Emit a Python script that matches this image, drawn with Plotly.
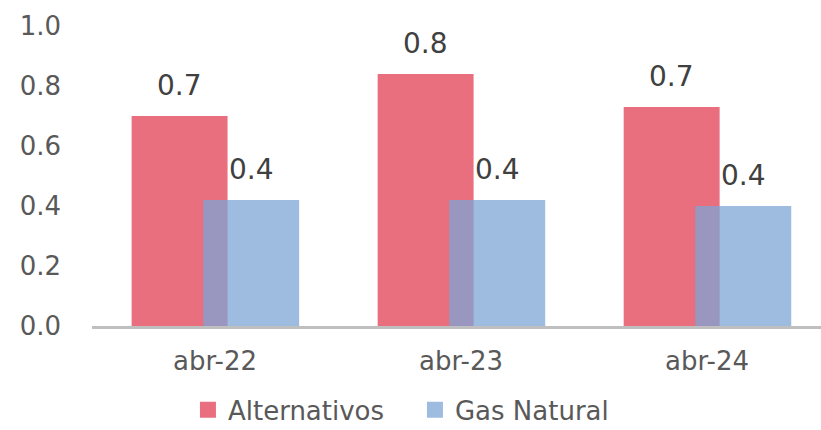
import plotly.graph_objects as go

categories = ["abr-22", "abr-23", "abr-24"]
alternativos = [0.70, 0.84, 0.73]
gas_natural = [0.42, 0.42, 0.40]
series_names = ["Alternativos", "Gas Natural"]
y_ticks = [0.0, 0.2, 0.4, 0.6, 0.8, 1.0]

RED = "rgb(233,111,127)"
BLUE = "rgba(125,164,213,0.75)"
FONT = "DejaVu Sans"
TXT = "#404040"
TICK = "#595959"

W, H = 821, 430
ML, MR, MT, MB = 92, 0, 26, 104
x_range = [-0.5, 2.463]
px_per_unit = (W - ML - MR) / (x_range[1] - x_range[0])

bw = 0.39
off_red = -0.339
off_blue = -0.048

fig = go.Figure()
fig.add_trace(go.Bar(x=categories, y=alternativos, name=series_names[0],
                     marker=dict(color=RED, line=dict(width=0)),
                     width=bw, offset=off_red, showlegend=False))
fig.add_trace(go.Bar(x=categories, y=gas_natural, name=series_names[1],
                     marker=dict(color=BLUE, line=dict(width=0)),
                     width=bw, offset=off_blue, showlegend=False))
# legend entries
fig.add_trace(go.Scatter(x=[None], y=[None], mode="markers", name=series_names[0],
                         marker=dict(symbol="square", size=18, color=RED)))
fig.add_trace(go.Scatter(x=[None], y=[None], mode="markers", name=series_names[1],
                         marker=dict(symbol="square", size=18, color=BLUE)))

for vals, off in ((alternativos, off_red), (gas_natural, off_blue)):
    for c, v in zip(categories, vals):
        fig.add_annotation(x=c, y=v, text=f"{v:.1f}", showarrow=False,
                           xshift=(off + bw / 2) * px_per_unit, yshift=12,
                           yanchor="bottom", xanchor="center",
                           font=dict(family=FONT, size=28, color=TXT))

fig.update_layout(
    width=W, height=H,
    margin=dict(l=ML, r=MR, t=MT, b=MB, autoexpand=False),
    barmode="overlay",
    plot_bgcolor="white", paper_bgcolor="white",
    font=dict(family=FONT, size=26, color=TICK),
    xaxis=dict(range=x_range, showline=True, linecolor="#BFBFBF", linewidth=3,
               showgrid=False, zeroline=False, ticks="", ticklabelstandoff=10,
               automargin=False,
               tickfont=dict(family=FONT, size=26, color=TICK)),
    yaxis=dict(range=[0, 1.0], tickvals=y_ticks, tickformat=".1f",
               showgrid=False, zeroline=False, showline=False, ticks="",
               ticklabelstandoff=30, automargin=False,
               tickfont=dict(family=FONT, size=26, color=TICK)),
    legend=dict(orientation="h", x=0.443, xanchor="center", y=-0.358, yanchor="bottom",
                font=dict(family=FONT, size=26, color=TICK),
                itemwidth=30, entrywidth=182, entrywidthmode="pixels",
                tracegroupgap=0, bgcolor="rgba(0,0,0,0)"),
)

fig.write_html("out.html", config={"displayModeBar": False},
               post_script="document.body.style.margin='0';")
